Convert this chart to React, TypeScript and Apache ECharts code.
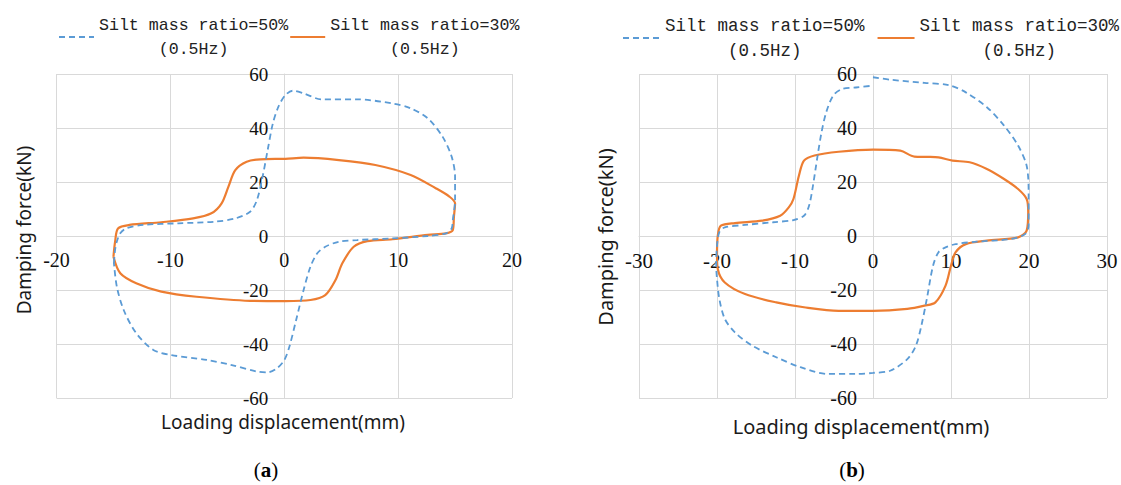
import React, { useEffect, useRef } from "react";
import * as echarts from "echarts";

// ---- Data ----
const legendNames = ["Silt mass ratio=50%\n      (0.5Hz)", "Silt mass ratio=30%\n      (0.5Hz)"];

const xTicksA = { min: -20, max: 20, interval: 10 };
const xTicksB = { min: -30, max: 30, interval: 10 };
const yTicks = { min: -60, max: 60, interval: 20 };

// (a) silt 50% – dashed blue loop
const aSilt50: number[][] = [
  [-14.96, -10], [-14.85, -5], [-14.7, -2], [-14.4, 1.0], [-13.9, 2.8], [-12.4, 4.1], [-9.3, 4.7],
  [-6.1, 5.3], [-4.3, 6.5], [-3.0, 9.0], [-2.4, 13.3], [-1.9, 22], [-1.45, 32], [-1.0, 41.7],
  [-0.5, 48], [0.1, 52.2], [0.75, 53.8], [1.7, 52.8], [3.3, 50.6], [6.4, 50.6], [9.5, 49.1],
  [11.1, 47.3], [12.6, 43.6], [13.9, 36.8], [14.7, 29.4], [15.0, 22], [15.0, 13.3], [14.8, 5.9],
  [14.7, 2.8], [14.2, 1.0], [12.6, 0], [9.5, -0.9], [6.4, -1.5], [4.8, -2.1], [3.6, -4.0],
  [2.9, -6.4], [2.3, -11.4], [1.7, -20], [1.05, -31], [0.45, -41], [0, -46], [-0.65, -49],
  [-1.45, -50.5], [-2.4, -50.2], [-4.6, -47.8], [-6.8, -45.9], [-9.9, -44.1], [-11.5, -42.2],
  [-13.0, -36], [-14.1, -27.4], [-14.7, -18.8], [-14.96, -10],
];

// (a) silt 30% – solid orange loop
const aSilt30: number[][] = [
  [-15.0, -7.7], [-14.85, -2], [-14.6, 2.8], [-13.6, 4.1], [-10.8, 5.1], [-8.0, 6.5], [-6.4, 8.4],
  [-5.5, 12.1], [-4.9, 18.3], [-4.3, 24.4], [-3.3, 27.5], [-2.1, 28.4], [0.1, 28.6], [1.7, 29.0],
  [4.8, 28.1], [8.0, 26.3], [11.1, 22.6], [13.3, 17.7], [14.5, 14.6], [15.0, 12.1], [14.9, 7.2],
  [14.8, 2.2], [14.2, 1.0], [12.6, 0.4], [9.5, -1.2], [7.3, -1.9], [6.1, -4.0], [5.1, -10.1],
  [4.5, -16.3], [3.6, -21.9], [2.3, -23.7], [0.1, -24.1], [-3.0, -24.0], [-7.7, -22.5],
  [-10.8, -20.6], [-13.0, -17.5], [-14.4, -13.8], [-15.0, -7.7],
];

// (b) silt 50% – dashed blue (open at x = 0 top)
const bSilt50: number[][] = [
  [0, 58.8], [2.2, 57.9], [6.6, 56.7], [9.7, 55.9], [11.9, 53.2], [14.6, 47.7], [16.8, 40.9],
  [18.6, 33.5], [19.7, 26], [19.95, 16.2], [19.95, 3.8], [19.5, 0.7], [17.7, -1.1], [13.3, -2.1],
  [10.6, -3.0], [9.3, -4.2], [8.4, -6], [7.7, -11], [6.9, -23.3], [6.2, -33.2], [5.5, -40.6],
  [4.4, -45.6], [2.2, -49.9], [0, -50.7], [-2.2, -51.1], [-5.75, -51.1], [-9.3, -48.6],
  [-12.4, -44.9], [-15.5, -40.6], [-17.7, -35.7], [-19.0, -30.7], [-19.7, -23.3], [-20.0, -15.9],
  [-20.1, -11], [-20.0, -3.6], [-19.7, 1.4], [-19.0, 3.2], [-16.4, 4.1], [-12.8, 5.1],
  [-10.2, 5.9], [-8.85, 7.5], [-8.2, 11.2], [-7.7, 18.6], [-7.1, 29.8], [-6.6, 38.4], [-6.0, 45.8],
  [-5.1, 52], [-4.0, 54.4], [-2.2, 55], [0, 55.7],
];

// (b) silt 30% – solid orange loop
const bSilt30: number[][] = [
  [-20.0, -7.3], [-19.9, 0.1], [-19.5, 3.8], [-17.7, 4.8], [-14.2, 5.7], [-11.9, 7.5],
  [-10.8, 10.6], [-10.2, 13.7], [-9.5, 22.3], [-8.85, 27.9], [-7.5, 29.8], [-4.4, 31.2], [0, 32],
  [3.5, 31.6], [5.3, 29.4], [7, 29.3], [8.4, 29.1], [10.2, 27.9], [12.4, 27.3], [14.6, 24.8],
  [16.8, 21.1], [18.6, 17.4], [19.7, 13.7], [19.9, 8.8], [19.7, 2.0], [18.6, -0.5], [14.6, -1.7],
  [11.9, -3.0], [10.6, -6], [10.0, -11], [9.3, -18.4], [8.0, -24.6], [6.6, -25.8], [4.4, -27],
  [0, -27.7], [-4.4, -27.7], [-8.85, -26.4], [-12.4, -24.6], [-16.4, -21.5], [-19.0, -17.2],
  [-19.9, -12.2], [-20.0, -7.3],
];

const xTitle = "Loading displacement(mm)";
const yTitle = "Damping force(kN)";

const BLUE = "#5B9BD5";
const ORANGE = "#ED7D31";
const GRID = "#d9d9d9";

// layout of the two plot areas
const gridA = { left: 56.5, top: 74, width: 455.5, height: 324 };
const gridB = { left: 639, top: 74, width: 468, height: 324 };

function xAxisCfg(t: { min: number; max: number; interval: number }, gridIndex: number, fs: number, g: any) {
  // place the axis line at y = 0
  const off = -((0 - yTicks.min) / (yTicks.max - yTicks.min)) * g.height;
  return {
    type: "value",
    gridIndex,
    position: "bottom",
    offset: off,
    min: t.min,
    max: t.max,
    interval: t.interval,
    axisLine: { show: true, onZero: false, lineStyle: { color: GRID, width: 1 } },
    axisTick: { show: false },
    axisLabel: { margin: 14, color: "#111", fontFamily: "Liberation Serif", fontSize: fs },
    splitLine: { show: true, lineStyle: { color: GRID, width: 1 } },
  };
}
function yAxisCfg(t: { min: number; max: number }, gridIndex: number, fs: number, g: any) {
  // place the axis line at x = 0
  const off = -((0 - t.min) / (t.max - t.min)) * g.width;
  return {
    type: "value",
    gridIndex,
    position: "left",
    offset: off,
    min: yTicks.min,
    max: yTicks.max,
    interval: yTicks.interval,
    axisLine: { show: true, onZero: false, lineStyle: { color: GRID, width: 1 } },
    axisTick: { show: false },
    axisLabel: { margin: 16, color: "#111", fontFamily: "Liberation Serif", fontSize: fs },
    splitLine: { show: true, lineStyle: { color: GRID, width: 1 } },
  };
}

function textEl(text: string, x: number, y: number, fs: number, rot = 0) {
  return {
    type: "text",
    x,
    y,
    rotation: rot,
    style: {
      text,
      fontFamily: "Noto Sans",
      fontSize: fs,
      fill: "#1a1a1a",
      align: "center",
      textAlign: "center",
      verticalAlign: "middle",
      textVerticalAlign: "middle",
    },
  };
}
function caption(letter: string, x: number, y: number) {
  return {
    type: "text",
    x,
    y,
    style: {
      text: `{p|(}{b|${letter}}{p|)}`,
      align: "center",
      textAlign: "center",
      verticalAlign: "middle",
      textVerticalAlign: "middle",
      rich: {
        p: { fontFamily: "Liberation Serif", fontSize: 21, fill: "#000" },
        b: { fontFamily: "Liberation Serif", fontSize: 21, fontWeight: "bold", fill: "#000" },
      },
    },
  };
}

export default function App() {
  const ref = useRef<HTMLDivElement>(null);
  useEffect(() => {
    if (!ref.current) return;
    const chart = echarts.init(ref.current, undefined, { renderer: "svg" });
    const lineSeries = (name: string, data: number[][], idx: number, dashed: boolean) => ({
      name,
      type: "line",
      xAxisIndex: idx,
      yAxisIndex: idx,
      data,
      showSymbol: false,
      symbol: "none",
      smooth: 0.3,
      clip: false,
      lineStyle: dashed
        ? { color: BLUE, width: 1.8, type: [6, 4] }
        : { color: ORANGE, width: 2.2, type: "solid" },
      itemStyle: { color: dashed ? BLUE : ORANGE },
      z: dashed ? 3 : 2,
    });
    chart.setOption({
      animation: false,
      backgroundColor: "#ffffff",
      legend: [
        {
          data: legendNames,
          left: 58,
          top: 13,
          padding: 0,
          itemGap: 1,
          itemWidth: 35,
          itemHeight: 14,
          itemStyle: { opacity: 0 },
          textStyle: { fontFamily: "Liberation Mono", fontSize: 16.6, lineHeight: 24, color: "#222" },
        },
        {
          data: legendNames,
          left: 622,
          top: 13,
          padding: 0,
          itemGap: 12,
          itemWidth: 37,
          itemHeight: 14,
          itemStyle: { opacity: 0 },
          textStyle: { fontFamily: "Liberation Mono", fontSize: 17.5, lineHeight: 25, color: "#222" },
        },
      ],
      grid: [
        { ...gridA, containLabel: false },
        { ...gridB, containLabel: false },
      ],
      xAxis: [xAxisCfg(xTicksA, 0, 20, gridA), xAxisCfg(xTicksB, 1, 21, gridB)],
      yAxis: [yAxisCfg(xTicksA, 0, 19, gridA), yAxisCfg(xTicksB, 1, 20, gridB)],
      series: [
        lineSeries(legendNames[0], aSilt50, 0, true),
        lineSeries(legendNames[1], aSilt30, 0, false),
        lineSeries(legendNames[0], bSilt50, 1, true),
        lineSeries(legendNames[1], bSilt30, 1, false),
      ],
      graphic: [
        textEl(yTitle, 24, 230, 19, Math.PI / 2),
        textEl(xTitle, 283, 422, 19),
        textEl(yTitle, 605, 237, 20, Math.PI / 2),
        textEl(xTitle, 861, 426, 20),
        caption("a", 266, 470),
        caption("b", 852, 470),
      ],
    });
    return () => chart.dispose();
  }, []);
  return (
    <div
      ref={ref}
      style={{ position: "fixed", left: 0, top: 0, width: 1121, height: 485, background: "#fff" }}
    />
  );
}
